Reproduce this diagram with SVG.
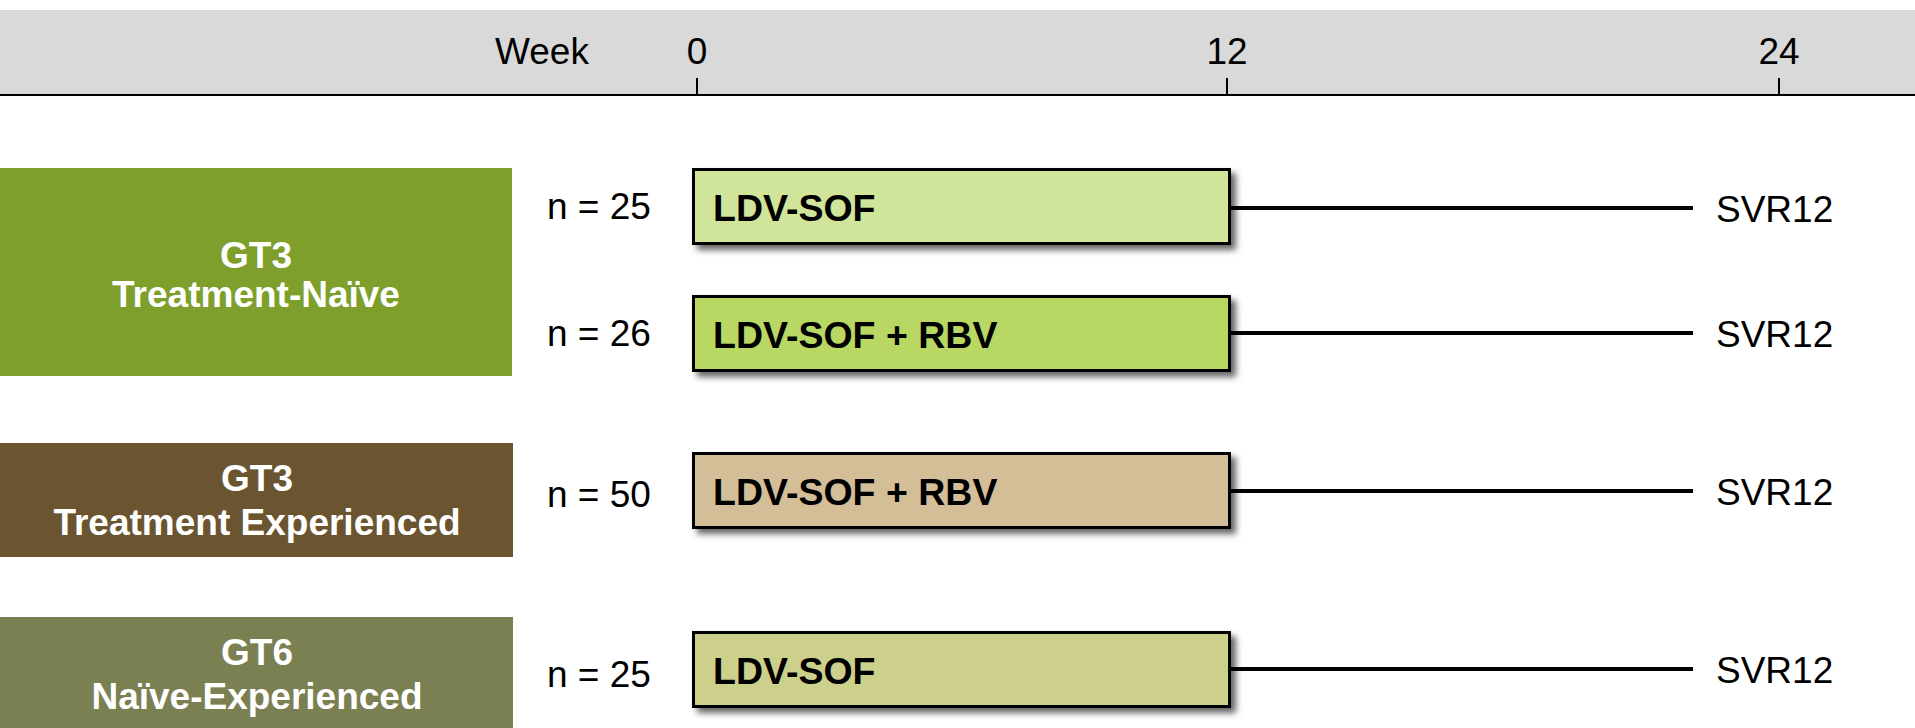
<svg xmlns="http://www.w3.org/2000/svg" width="1915" height="728" viewBox="0 0 1915 728">
<style>
text{font-family:"Liberation Sans",Arial,sans-serif;font-size:37px}
.ax{fill:#000;text-anchor:middle}
.grp{fill:#fff;font-weight:bold;text-anchor:middle}
.n{fill:#000}
.drug{fill:#000;font-weight:bold;font-size:37.5px}
.box{stroke:#000;stroke-width:3;filter:url(#sh)}
.conn{stroke:#000;stroke-width:4;fill:none}
</style>
<defs>
<filter id="sh" x="-5%" y="-20%" width="115%" height="160%">
<feDropShadow dx="5" dy="5" stdDeviation="3" flood-color="#000" flood-opacity="0.6"/>
</filter>
</defs>
<rect width="1915" height="728" fill="#fff"/>
<g id="axis">
<rect x="0" y="10" width="1915" height="86" fill="#D9D9D9"/>
<line x1="0" y1="95" x2="1915" y2="95" stroke="#000" stroke-width="2"/>
<line x1="697" y1="78" x2="697" y2="95" stroke="#000" stroke-width="2"/>
<line x1="1227" y1="78" x2="1227" y2="95" stroke="#000" stroke-width="2"/>
<line x1="1779" y1="78" x2="1779" y2="95" stroke="#000" stroke-width="2"/>
<text x="495" y="64" class="n">Week</text>
<text x="697" y="64" class="ax">0</text>
<text x="1227" y="64" class="ax">12</text>
<text x="1779" y="64" class="ax">24</text>
</g>
<g id="grp-gt3-naive">
<rect x="0" y="168" width="512" height="208" fill="#7E9F2B"/>
<text x="256" y="268" class="grp">GT3</text>
<text x="256" y="307" class="grp">Treatment-Naïve</text>
</g>
<g id="grp-gt3-exp">
<rect x="0" y="443" width="513" height="114" fill="#6B5530"/>
<text x="257" y="491" class="grp">GT3</text>
<text x="257" y="535" class="grp">Treatment Experienced</text>
</g>
<g id="grp-gt6">
<rect x="0" y="617" width="513" height="111" fill="#7B8053"/>
<text x="257" y="665" class="grp">GT6</text>
<text x="257" y="709" class="grp">Naïve-Experienced</text>
</g>
<g id="arm1">
<text x="547" y="219" class="n">n = 25</text>
<rect x="693.5" y="169.5" width="536" height="74" fill="#D0E49A" class="box"/>
<text x="713" y="221" class="drug">LDV-SOF</text>
</g>
<g id="arm2">
<text x="547" y="346" class="n">n = 26</text>
<rect x="693.5" y="296.5" width="536" height="74" fill="#B8D763" class="box"/>
<text x="713" y="348" class="drug">LDV-SOF + RBV</text>
</g>
<g id="arm3">
<text x="547" y="507" class="n">n = 50</text>
<rect x="693.5" y="453.5" width="536" height="74" fill="#D4BE98" class="box"/>
<text x="713" y="505" class="drug">LDV-SOF + RBV</text>
</g>
<g id="arm4">
<text x="547" y="687" class="n">n = 25</text>
<rect x="693.5" y="632.5" width="536" height="74" fill="#CDD08B" class="box"/>
<text x="713" y="684" class="drug">LDV-SOF</text>
</g>
<g id="connectors">
<line x1="1231" y1="208" x2="1693" y2="208" class="conn"/>
<line x1="1231" y1="333" x2="1693" y2="333" class="conn"/>
<line x1="1231" y1="491" x2="1693" y2="491" class="conn"/>
<line x1="1231" y1="669" x2="1693" y2="669" class="conn"/>
</g>
<g id="outcomes">
<text x="1716" y="222" class="n">SVR12</text>
<text x="1716" y="347" class="n">SVR12</text>
<text x="1716" y="505" class="n">SVR12</text>
<text x="1716" y="683" class="n">SVR12</text>
</g>
</svg>
